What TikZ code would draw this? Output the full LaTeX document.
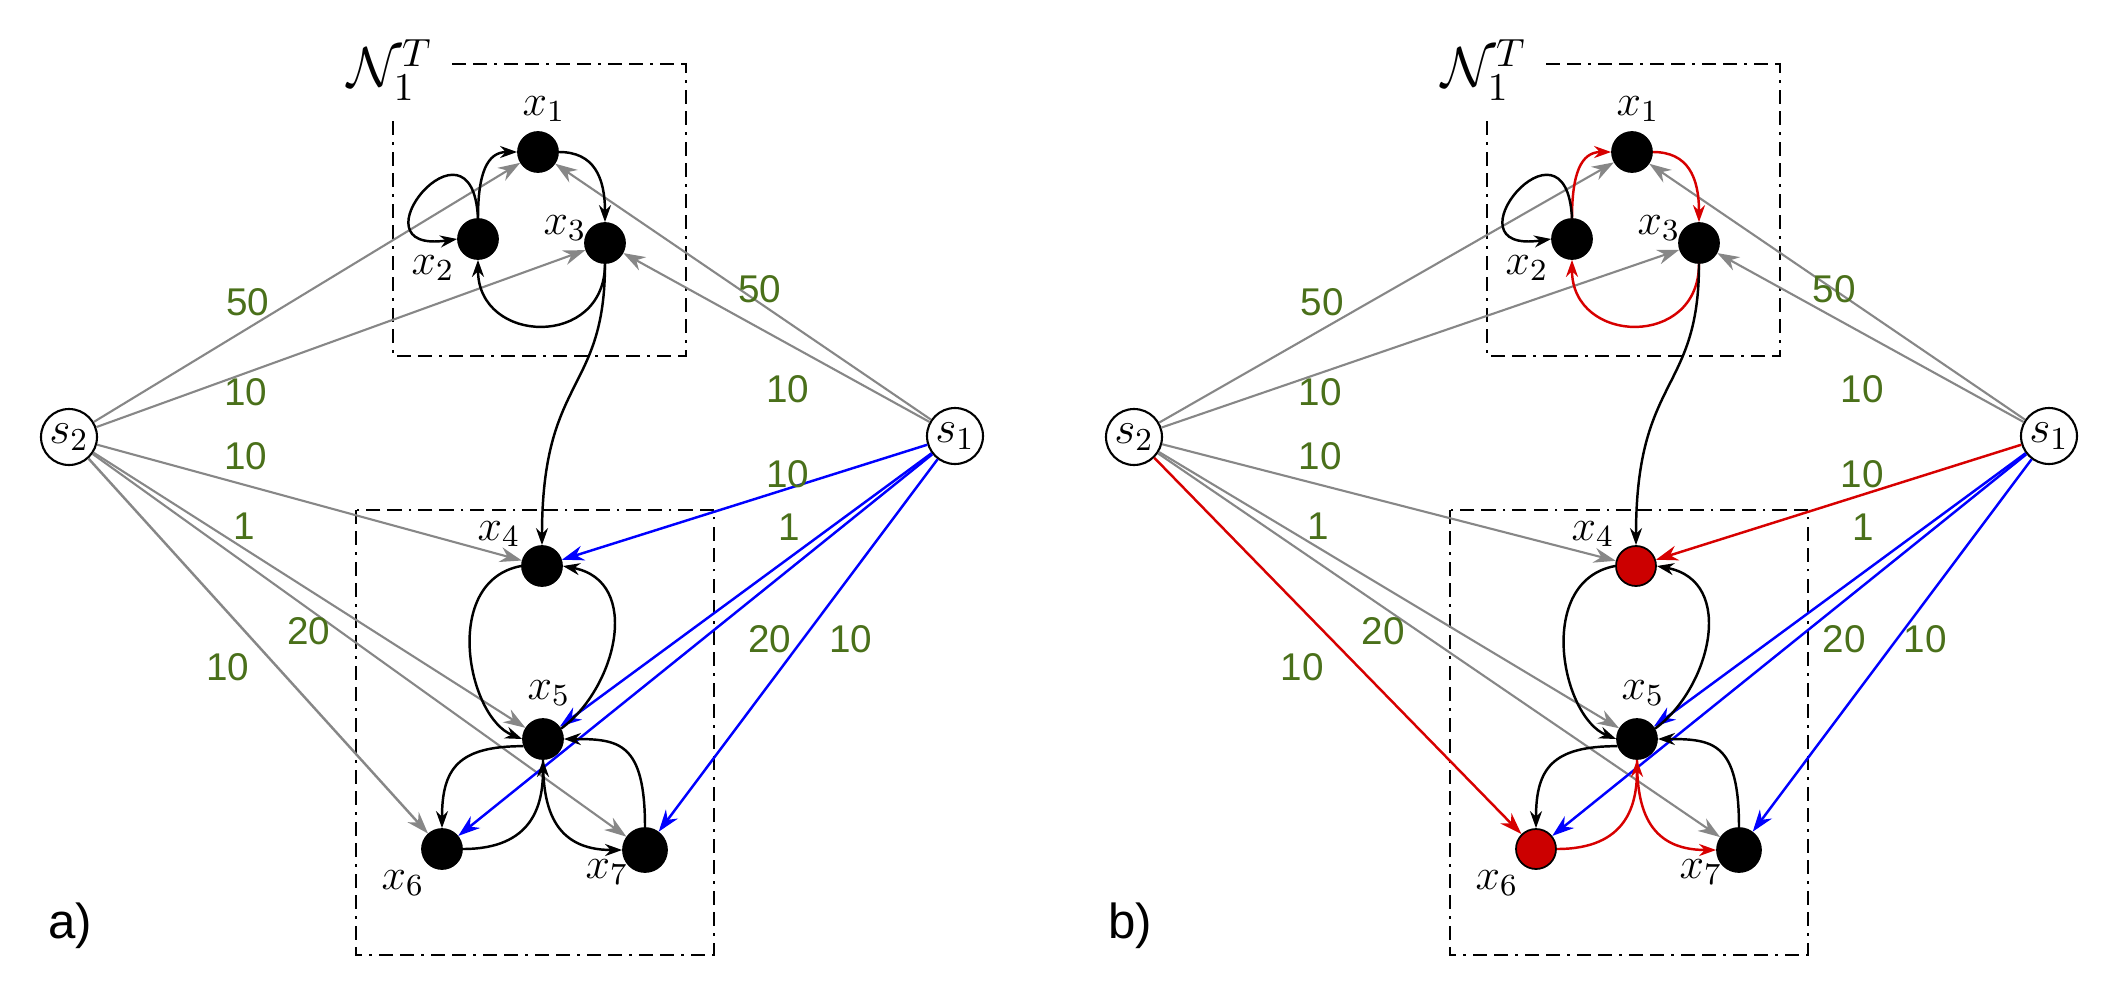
\RequirePackage{fix-cm}
\documentclass[tikz,border=0pt]{standalone}
\usepackage{fontspec}
\newfontfamily\wfont{Liberation Sans}
\usetikzlibrary{arrows.meta}
\definecolor{wgreen}{RGB}{74,112,26}
\definecolor{egray}{RGB}{135,135,135}
\definecolor{eblue}{RGB}{0,0,255}
\definecolor{ered}{RGB}{215,0,0}
\definecolor{nred}{RGB}{204,0,0}
\newcommand\drawpanel[8]{%
  % boxes
  \node[nlab] (#1N) at (390,70) {$\mathcal{N}_1^T$};
  \draw[boxline] (452,64) -- (686,64) -- (686,356) -- (393,356) -- (393,120);
  \draw[boxline] (356,510) rectangle (714,955);
  % nodes
  \node[dot] (#1x1) at (538,152) {};
  \node[dot] (#1x2) at (478,239) {};
  \node[dot] (#1x3) at (605,243) {};
  \node[dot=#7] (#1x4) at (542,566) {};
  \node[dot] (#1x5) at (543,739) {};
  \node[dot=#7] (#1x6) at (442,849) {};
  \node[dot,minimum size=4.4mm] (#1x7) at (645,850) {};
  \node[src] (#1s2) at (#2,437) {$s_2$};
  \node[src] (#1s1) at (955,436) {$s_1$};
  % node labels
  \node[lab] (#1l1) at (544,109) {$x_1$};
  \node[lab] (#1l2) at (433,268) {$x_2$};
  \node[lab] (#1l3) at (565,228) {$x_3$};
  \node[lab] (#1l4) at (499,534) {$x_4$};
  \node[lab] (#1l5) at (549,693) {$x_5$};
  \node[lab] (#1l6) at (403,883) {$x_6$};
  \node[lab] (#1l7) at (607,872) {$x_7$};
  % source edges
  \draw[gedge] (#1s2) -- (#1x1);
  \draw[gedge] (#1s2) -- (#1x3);
  \draw[gedge] (#1s2) -- (#1x4);
  \draw[gedge] (#1s2) -- (#1x5);
  \draw[gedge] (#1s2) -- (#1x7);
  \draw[cedge=#5] (#1s2) -- (#1x6);
  \draw[gedge] (#1s1) -- (#1x1);
  \draw[gedge] (#1s1) -- (#1x3);
  \draw[cedge=#4] (#1s1) -- (#1x4);
  \draw[cedge=eblue] (#1s1) -- (#1x5);
  \draw[cedge=eblue] (#1s1) -- (#1x6);
  \draw[cedge=eblue] (#1s1) -- (#1x7);
  % inner edges
  \draw[kedge=#3] (#1x2.north) .. controls +(0,-45) and +(-30,0) .. (#1x1.west);
  \draw[kedge=#3] (#1x1.east) .. controls +(35,0) and +(0,-45) .. (#1x3.north);
  \draw[kedge=#3] (#1x3.south) .. controls +(0,85) and +(0,85) .. (#1x2.south);
  \draw[kedge] (#1x2.north) .. controls +(-6,-115) and +(-110,16) .. (#1x2.west);
  \draw[kedge] (#1x3.south) .. controls +(0,130) and +(0,-170) .. (#1x4.north);
  \draw[kedge] (#1x4.west) .. controls +(-80,15) and +(-55,-22) .. (#1x5.west);
  \draw[kedge] (#1x5.30) .. controls +(55,-40) and +(80,15) .. (#1x4.east);
  \draw[kedge] (#1x5.200) .. controls +(-65,0) and +(0,-60) .. (#1x6.north);
  \draw[kedge=#6] (#1x6.east) .. controls +(70,0) and +(0,45) .. (#1x5.south);
  \draw[kedge=#6] (#1x5.south) .. controls +(0,45) and +(-70,0) .. (#1x7.west);
  \draw[kedge] (#1x7.north) .. controls +(0,-85) and +(55,0) .. (#1x5.east);
  % weights
  \node[wt] (#1w1) at (248+#8,302) {50};
  \node[wt] (#1w2) at (246+#8,392) {10};
  \node[wt] (#1w3) at (246+#8,456) {10};
  \node[wt] (#1w4) at (244+#8,526) {1};
  \node[wt] (#1w5) at (309+#8,631) {20};
  \node[wt] (#1w6) at (228+#8,667) {10};
  \node[wt] (#1w7) at (760+#8,289) {50};
  \node[wt] (#1w8) at (788+#8,389) {10};
  \node[wt] (#1w9) at (788+#8,474) {10};
  \node[wt] (#1w10) at (789+#8,527) {1};
  \node[wt] (#1w11) at (770+#8,639) {20};
  \node[wt] (#1w12) at (851+#8,639) {10};
}
\begin{document}
\begin{tikzpicture}[x=0.1mm,y=-0.1mm,
  dot/.style={circle,draw=black,line width=0.5pt,fill=#1,inner sep=0pt,minimum size=4.0mm},
  dot/.default=black,
  src/.style={circle,draw=black,line width=0.6pt,fill=white,inner sep=0pt,minimum size=5.6mm,font=\fontsize{13}{15}\selectfont},
  lab/.style={font=\fontsize{12.5}{15}\selectfont,inner sep=0pt},
  nlab/.style={font=\fontsize{16}{18}\selectfont,inner sep=0pt},
  wt/.style={font=\wfont\fontsize{11}{13}\selectfont,text=wgreen,inner sep=0pt},
  gedge/.style={draw=egray,line width=0.6pt,-{Stealth[length=2.2mm,width=1.5mm]}},
  cedge/.style={draw=#1,line width=0.7pt,-{Stealth[length=2.2mm,width=1.5mm]}},
  kedge/.style={draw=#1,line width=0.7pt,-{Stealth[length=1.7mm,width=1.2mm]}},
  kedge/.default=black,
  boxline/.style={line width=0.6pt,dash pattern=on 4pt off 2pt on 4pt off 2pt on 0.8pt off 2pt}]
\useasboundingbox (0,0) rectangle (2104,983);
\drawpanel{a}{69}{black}{eblue}{egray}{black}{black}{0}
\begin{scope}[shift={(1094,0)}]
\drawpanel{b}{40}{ered}{ered}{ered}{ered}{nred}{-20}
\end{scope}
\node[font=\wfont\fontsize{14}{16}\selectfont] (taga) at (70,926) {a)};
\node[font=\wfont\fontsize{14}{16}\selectfont] (tagb) at (1130,926) {b)};
\end{tikzpicture}
\end{document}
